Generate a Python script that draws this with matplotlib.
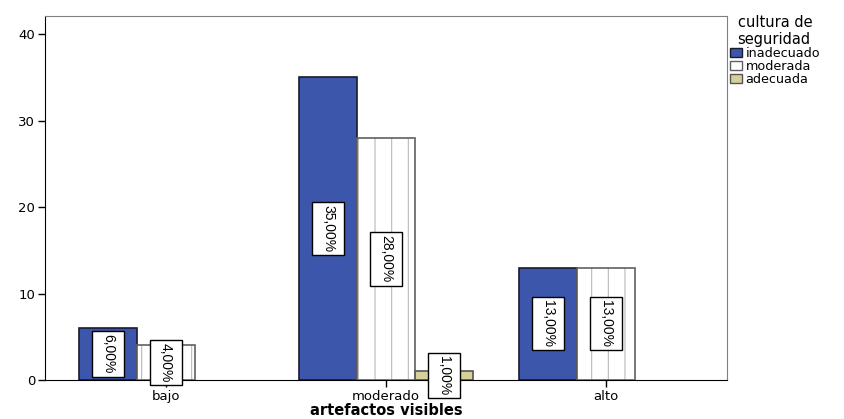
import matplotlib
matplotlib.use("Agg")
import matplotlib.pyplot as plt
import numpy as np
from matplotlib.path import Path

categories = ["bajo", "moderado", "alto"]
series_names = ["inadecuado", "moderada", "adecuada"]
inadecuado = [6, 35, 13]
moderada = [4, 28, 13]
adecuada = [0, 1, 0]
labels_inadecuado = ["6,00%", "35,00%", "13,00%"]
labels_moderada = ["4,00%", "28,00%", "13,00%"]
labels_adecuada = ["", "1,00%", ""]

plt.rcParams['font.family'] = ['DejaVu Sans']
plt.rcParams['hatch.linewidth'] = 0.8


def label_box(x0, y0, width, height, mutation_size):
    pl, pa = 3.0, 9.0  # pad along text, pad across text (pixels)
    x1, y1 = x0 - pl, y0 - pa
    x2, y2 = x0 + width + pl, y0 + height + pa
    return Path([(x1, y1), (x2, y1), (x2, y2), (x1, y2), (x1, y1)], closed=True)


fig = plt.figure(figsize=(8.45, 4.19), dpi=100)
ax = fig.add_axes([45/845, 39/419, 682/845, 364/419])

x = np.arange(len(categories))
w = 0.2636
series = [inadecuado, moderada, adecuada]
lbls = [labels_inadecuado, labels_moderada, labels_adecuada]
colors = ["#3B56AA", "white", "#D6D09A"]
edges = ["#1a1a2e", "#606060", "#555555"]
hatches = [None, "|", None]
handles = []

for i, (vals, col, ec, h, lb) in enumerate(zip(series, colors, edges, hatches, lbls)):
    xs = x + (i - 1) * w
    keep = [j for j, v in enumerate(vals) if v > 0]
    kx = [xs[j] for j in keep]
    kv = [vals[j] for j in keep]
    if h:
        ax.bar(kx, kv, w, color=col, edgecolor="#b8b8b8", linewidth=0, hatch=h, zorder=2)
        ax.bar(kx, kv, w, fill=False, edgecolor=ec, linewidth=1.2, zorder=3)
    else:
        ax.bar(kx, kv, w, color=col, edgecolor=ec, linewidth=1.2, zorder=2)
    handles.append(plt.Rectangle((0, 0), 1, 1, fc=col, ec=ec, lw=1.0))
    for j in keep:
        t = lb[j]
        if t:
            ax.text(xs[j], vals[j] / 2, t, rotation=-90, ha="center", va="center", fontsize=10,
                    family=["Liberation Sans", "DejaVu Sans"], zorder=5,
                    bbox=dict(boxstyle=label_box, fc="white", ec="black", lw=1.0),
                    clip_on=False)

ax.set_xlim(-0.55, 2.55)
ax.set_ylim(0, 42.1)
ax.set_yticks([0, 10, 20, 30, 40])
ax.set_xticks(x)
ax.set_xticklabels(categories)
ax.tick_params(axis="both", direction="out", length=5, width=1, labelsize=9.5, pad=2)
for s in ["top", "right"]:
    ax.spines[s].set_color("#808080")
for s in ["left", "bottom"]:
    ax.spines[s].set_color("black")
ax.set_xlabel("artefactos visibles", fontsize=10.5, fontweight="bold", labelpad=0)

leg = ax.legend(handles, series_names, title="cultura de\nseguridad", loc="upper left",
                bbox_to_anchor=(1.0, 1.01), frameon=False, fontsize=9.2, title_fontsize=10.5,
                handlelength=1.0, handleheight=0.7, handletextpad=0.25, borderaxespad=0.1,
                borderpad=0.1, labelspacing=0.0)

fig.savefig("out.png", dpi=100)
